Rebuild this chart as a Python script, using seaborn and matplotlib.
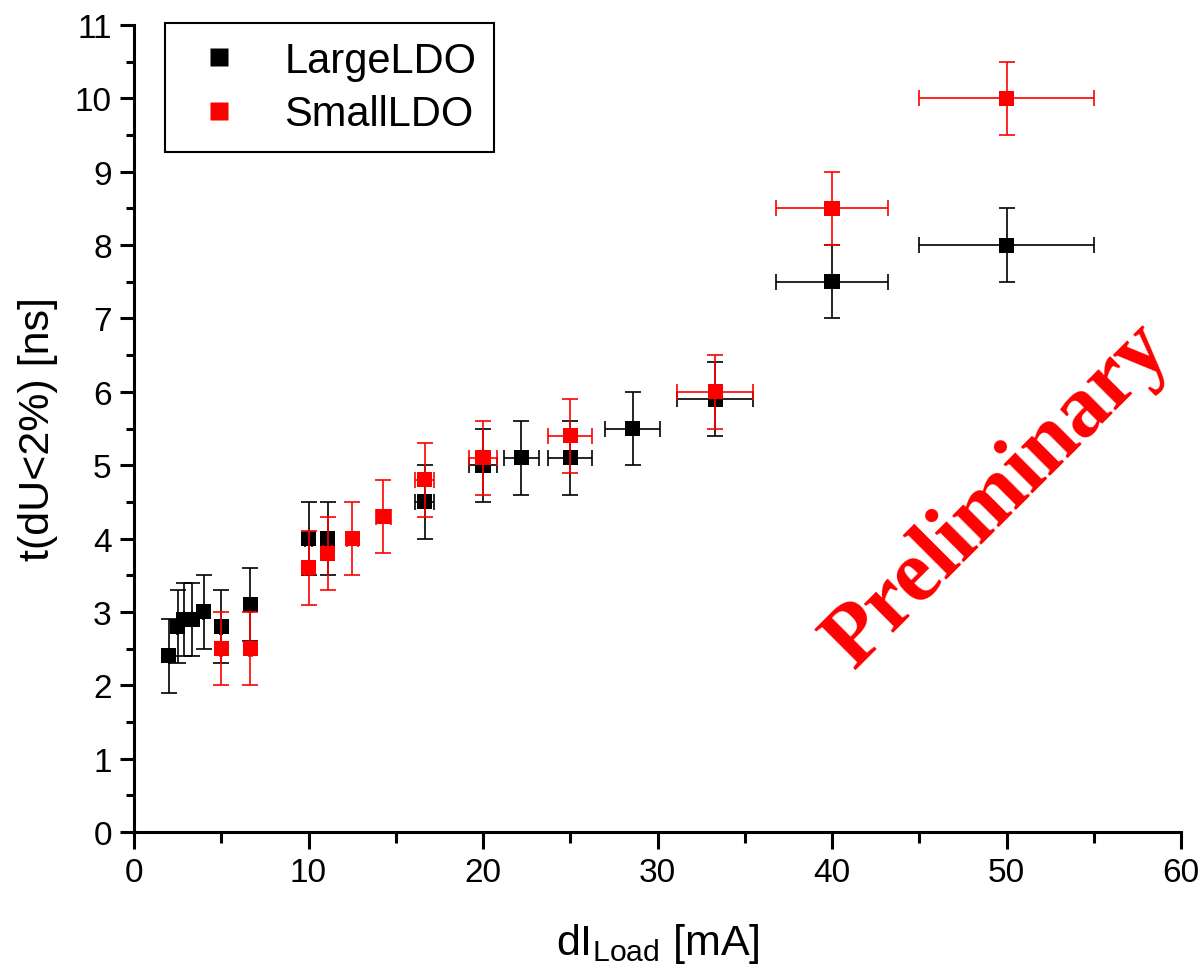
import matplotlib
matplotlib.use("Agg")
import matplotlib.pyplot as plt
from matplotlib.lines import Line2D
from matplotlib.ticker import MultipleLocator
import seaborn as sns
import pandas as pd

# ---- data ----
large_x = [2.0, 2.5, 2.86, 3.33, 4.0, 5.0, 6.67, 10.0, 11.1, 16.67, 20.0, 22.2, 25.0, 28.57, 33.3, 40.0, 50.0]
large_y = [2.4, 2.8, 2.9, 2.9, 3.0, 2.8, 3.1, 4.0, 4.0, 4.5, 5.0, 5.1, 5.1, 5.5, 5.9, 7.5, 8.0]
large_xerr = [0.01, 0.01, 0.02, 0.02, 0.03, 0.05, 0.09, 0.2, 0.25, 0.55, 0.8, 1.0, 1.25, 1.6, 2.2, 3.2, 5.0]
large_yerr = [0.5, 0.5, 0.5, 0.5, 0.5, 0.5, 0.5, 0.5, 0.5, 0.5, 0.5, 0.5, 0.5, 0.5, 0.5, 0.5, 0.5]

small_x = [5.0, 6.67, 10.0, 11.1, 12.5, 14.29, 16.67, 20.0, 25.0, 33.3, 40.0, 50.0]
small_y = [2.5, 2.5, 3.6, 3.8, 4.0, 4.3, 4.8, 5.1, 5.4, 6.0, 8.5, 10.0]
small_xerr = [0.05, 0.09, 0.2, 0.25, 0.31, 0.45, 0.55, 0.8, 1.25, 2.2, 3.2, 5.0]
small_yerr = [0.5, 0.5, 0.5, 0.5, 0.5, 0.5, 0.5, 0.5, 0.5, 0.5, 0.5, 0.5]

series_names = ["LargeLDO", "SmallLDO"]
series_colors = {"LargeLDO": "black", "SmallLDO": "red"}

x_ticks = [0, 10, 20, 30, 40, 50, 60]
y_ticks = [0, 1, 2, 3, 4, 5, 6, 7, 8, 9, 10, 11]

df_large = pd.DataFrame({"x": large_x, "y": large_y, "xerr": large_xerr,
                         "yerr": large_yerr, "series": "LargeLDO"})
df_small = pd.DataFrame({"x": small_x, "y": small_y, "xerr": small_xerr,
                         "yerr": small_yerr, "series": "SmallLDO"})

sns.set_theme(style="ticks")
plt.rcParams["font.family"] = ["Liberation Sans", "DejaVu Sans"]
plt.rcParams["text.color"] = "black"
plt.rcParams["axes.labelcolor"] = "black"
plt.rcParams["xtick.color"] = "black"
plt.rcParams["ytick.color"] = "black"

fig = plt.figure(figsize=(12.02, 9.79), dpi=100)
ax = fig.add_axes([134 / 1202, 1 - 833 / 979, (1181 - 134) / 1202, (833 - 26) / 979])

z = 2
for df in (df_large, df_small):
    name = df["series"].iloc[0]
    col = series_colors[name]
    ax.errorbar(df["x"], df["y"], xerr=df["xerr"], yerr=df["yerr"], fmt="none",
                ecolor=col, elinewidth=1.2, capsize=5.5, capthick=1.2, zorder=z)
    sns.scatterplot(data=df, x="x", y="y", color=col, marker="s", s=118,
                    edgecolor="none", linewidth=0, ax=ax, zorder=z + 1, legend=False)
    z += 2

ax.set_xlim(0, 60)
ax.set_ylim(0, 11)
ax.set_xticks(x_ticks)
ax.set_yticks(y_ticks)
ax.xaxis.set_minor_locator(MultipleLocator(5))
ax.yaxis.set_minor_locator(MultipleLocator(0.5))

for s in ("top", "right"):
    ax.spines[s].set_visible(False)
for s in ("left", "bottom"):
    ax.spines[s].set_linewidth(2.2)
    ax.spines[s].set_color("black")

ax.tick_params(axis="both", which="both", direction="out", width=2.2, colors="black",
               labelcolor="black", labelsize=24, pad=6)
ax.tick_params(axis="x", which="major", length=12)
ax.tick_params(axis="x", which="minor", length=8)
ax.tick_params(axis="y", which="major", length=10)
ax.tick_params(axis="y", which="minor", length=6)

ax.set_xlabel(r"dI$_{\mathregular{Load}}$ [mA]", fontsize=31, labelpad=24, color="black")
ax.set_ylabel("t(dU<2%) [ns]", fontsize=31, labelpad=12, color="black")

handles = [Line2D([], [], linestyle="none", marker="s", markersize=13,
                  markerfacecolor=series_colors[n], markeredgecolor="none")
           for n in series_names]
leg = ax.legend(handles, series_names, loc="upper left", bbox_to_anchor=(0.0296, 1.002),
                fontsize=30, frameon=True, fancybox=False, shadow=False,
                borderpad=0.42, labelspacing=0.32, handlelength=1.75,
                handletextpad=0.7, borderaxespad=0, numpoints=1, labelcolor="black")
leg.get_frame().set_edgecolor("black")
leg.get_frame().set_linewidth(1.5)
leg.get_frame().set_facecolor("white")
leg.get_frame().set_alpha(1)

ax.text(0.825, 0.418, "Preliminary", transform=ax.transAxes, rotation=45,
        rotation_mode="anchor", ha="center", va="center", color="red",
        fontsize=63, fontweight="bold", family=["Liberation Serif", "DejaVu Serif"])

ax.set_facecolor("white")
fig.patch.set_facecolor("white")
fig.savefig("out.png", dpi=100, facecolor="white")
